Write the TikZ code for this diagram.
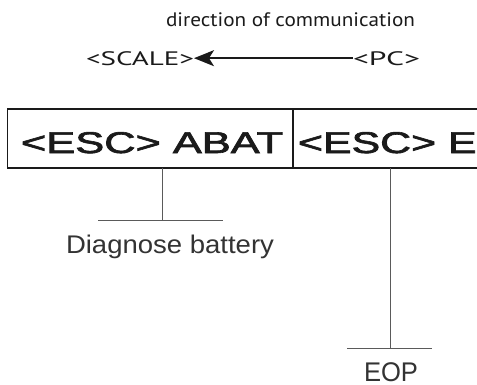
\documentclass[tikz,border=0pt]{standalone}
\usepackage{fontspec}
\setmainfont{Liberation Sans}
\newfontfamily\humanist{PT Sans}
\newfontfamily\heavy[FakeBold=2]{Liberation Sans}
\usetikzlibrary{arrows.meta}
\definecolor{ink}{HTML}{1A1A1A}
\definecolor{leader}{HTML}{5A5A5A}
\definecolor{labelgray}{HTML}{333333}
\begin{document}
\begin{tikzpicture}[x=1pt,y=-1pt,
  lbl/.style={inner sep=0pt, outer sep=0pt, anchor=base west},
  cell/.style={line width=1.3pt, draw=ink},
  leaderline/.style={line width=1pt, draw=leader},
  flow/.style={line width=1.5pt, draw=ink, -{Stealth[length=20pt,width=16pt,inset=5pt]}},
  bigtext/.style={lbl, text=ink},
  small/.style={lbl, text=labelgray}]
\useasboundingbox (0,0) rectangle (477,384);

% heading and direction arrow
\node[lbl, text=ink] (dir) at (166,26) {\resizebox{249pt}{\height}{\humanist\fontsize{19.5}{23}\selectfont direction of communication}};
\node[lbl, text=ink] (scale) at (86,65) {\resizebox{108pt}{\height}{\humanist\fontsize{19.5}{23}\selectfont <SCALE>}};
\node[lbl, text=ink] (pc) at (353,65) {\resizebox{67pt}{\height}{\humanist\fontsize{19.5}{23}\selectfont <PC>}};
\draw[flow] (pc.west) -- (scale.east);

% command cells
\coordinate (tl) at (7.5,109);
\coordinate (bl) at (7.5,168);
\coordinate (tm) at (293,109);
\coordinate (bm) at (293,168);
\coordinate (tr) at (477,109);
\coordinate (br) at (477,168);
\draw[cell] (tr) -- (tl) -- (bl) -- (br);
\draw[cell] (tm) -- (bm);

\node[bigtext] (c1) at (21,153) {\resizebox{262pt}{\height}{\heavy\fontsize{30}{36}\selectfont <ESC> ABAT}};
\node[bigtext] (c2) at (298,153) {\resizebox{178.6pt}{\height}{\heavy\fontsize{30}{36}\selectfont <ESC> E}};

% leader for ABAT
\coordinate (b1) at (162,168);
\coordinate (j1) at (162,220);
\coordinate (h1l) at (98,220);
\coordinate (h1r) at (223,220);
\draw[leaderline] (b1) -- (j1);
\draw[leaderline] (h1l) -- (h1r);
\node[small] (diag) at (66,253) {\resizebox{208pt}{\height}{\fontsize{25.5}{30}\selectfont Diagnose battery}};

% leader for E
\coordinate (b2) at (390,168);
\coordinate (j2) at (390,348);
\coordinate (h2l) at (347,348);
\coordinate (h2r) at (432,348);
\draw[leaderline] (b2) -- (j2);
\draw[leaderline] (h2l) -- (h2r);
\node[small] (eop) at (364,381) {\resizebox{54pt}{\height}{\fontsize{27}{32}\selectfont EOP}};
\end{tikzpicture}
\end{document}
